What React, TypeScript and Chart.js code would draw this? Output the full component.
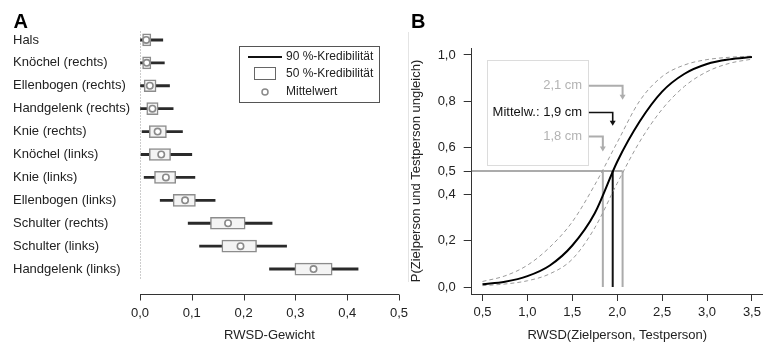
import React, { useEffect, useRef } from 'react';
import { Chart, registerables } from 'chart.js';

Chart.register(...registerables);

const FONT = "'Liberation Sans', Arial, Helvetica, sans-serif";

// ---------- Panel A data ----------
const CATEGORIES = [
  'Hals',
  'Knöchel (rechts)',
  'Ellenbogen (rechts)',
  'Handgelenk (rechts)',
  'Knie (rechts)',
  'Knöchel (links)',
  'Knie (links)',
  'Ellenbogen (links)',
  'Schulter (rechts)',
  'Schulter (links)',
  'Handgelenk (links)',
];
const CI90_LOW = [0.0, 0.001, 0.0, 0.001, 0.004, 0.002, 0.008, 0.039, 0.093, 0.115, 0.25];
const CI90_HIGH = [0.044, 0.047, 0.057, 0.064, 0.082, 0.1, 0.106, 0.145, 0.255, 0.283, 0.421];
const CI50_LOW = [0.005, 0.005, 0.008, 0.013, 0.018, 0.018, 0.028, 0.064, 0.136, 0.158, 0.299];
const CI50_HIGH = [0.021, 0.021, 0.031, 0.035, 0.051, 0.059, 0.069, 0.107, 0.203, 0.225, 0.371];
const MEAN = [0.012, 0.013, 0.019, 0.024, 0.034, 0.041, 0.05, 0.087, 0.17, 0.194, 0.335];
const TICKS_A = [0, 0.1, 0.2, 0.3, 0.4, 0.5];
const LEGEND_A = ['90 %-Kredibilität', '50 %-Kredibilität', 'Mittelwert'];

// ---------- Panel B data ----------
const X_B = [0.5, 0.75, 1.0, 1.25, 1.5, 1.75, 2.0, 2.25, 2.5, 2.75, 3.0, 3.25, 3.5];
const P_MEAN = [0.012, 0.023, 0.047, 0.093, 0.179, 0.318, 0.54, 0.713, 0.842, 0.919, 0.961, 0.981, 0.991];
const P_UPPER = [0.024, 0.048, 0.094, 0.172, 0.281, 0.44, 0.623, 0.802, 0.907, 0.957, 0.98, 0.99, 0.995];
const P_LOWER = [0.006, 0.013, 0.027, 0.057, 0.12, 0.255, 0.447, 0.626, 0.766, 0.865, 0.928, 0.964, 0.982];
const TICKS_B_X = [0.5, 1.0, 1.5, 2.0, 2.5, 3.0, 3.5];
const TICKS_B_Y = [0, 0.2, 0.4, 0.5, 0.6, 0.8, 1.0];
const X_MIN_B = 0.38;
const X_MAX_B = 3.62;
const THRESHOLD = 0.5;
const CROSS_LOW = 1.84;
const CROSS_MEAN = 1.95;
const CROSS_HIGH = 2.06;
const ANNOT_TEXT = ['2,1 cm', 'Mittelw.: 1,9 cm', '1,8 cm'];
const ANNOT_Y = [0.867, 0.752, 0.649];
const ANNOT_TIP_Y = [0.807, 0.695, 0.584];
const ANNOT_TARGET_X = [CROSS_HIGH, CROSS_MEAN, CROSS_LOW];
const ANNOT_BOX = { x0: 0.549, x1: 1.673, y0: 0.524, y1: 0.978 };
const ANNOT_TEXT_X = 1.61;
const ANNOT_ARROW_X0 = 1.685;

const fmt = (v: number) => Number(v).toFixed(1).replace('.', ',');
const font13 = { family: FONT, size: 13 };

const panelAPlugin = {
  id: 'panelA',
  beforeDatasetsDraw(chart: any) {
    const { ctx, chartArea } = chart;
    const xs = chart.scales.x;
    const x0 = Math.round(xs.getPixelForValue(0)) + 0.5;
    ctx.save();
    ctx.strokeStyle = '#9a9a9a';
    ctx.lineWidth = 1;
    ctx.setLineDash([1, 2]);
    ctx.beginPath();
    ctx.moveTo(x0, chartArea.top + 3);
    ctx.lineTo(x0, chartArea.bottom);
    ctx.stroke();
    ctx.restore();
  },
  afterDraw(chart: any) {
    const { ctx, chartArea } = chart;
    const xs = chart.scales.x;
    ctx.save();
    // axis line below the plot
    const ay = Math.round(chartArea.bottom + 13.5) + 0.5;
    ctx.strokeStyle = '#333';
    ctx.lineWidth = 1;
    ctx.beginPath();
    ctx.moveTo(xs.getPixelForValue(TICKS_A[0]), ay);
    ctx.lineTo(xs.getPixelForValue(TICKS_A[TICKS_A.length - 1]), ay);
    TICKS_A.forEach((t) => {
      const px = Math.round(xs.getPixelForValue(t)) + 0.5;
      ctx.moveTo(px, ay);
      ctx.lineTo(px, ay + 6);
    });
    ctx.stroke();

    // legend
    ctx.strokeStyle = '#555';
    ctx.lineWidth = 1;
    ctx.strokeRect(239.5, 46.5, 140, 56);
    ctx.strokeStyle = '#111';
    ctx.lineWidth = 2;
    ctx.beginPath();
    ctx.moveTo(248, 57);
    ctx.lineTo(282, 57);
    ctx.stroke();
    ctx.strokeStyle = '#666';
    ctx.lineWidth = 1;
    ctx.strokeRect(254.5, 67.5, 21, 12);
    ctx.strokeStyle = '#8a8a8a';
    ctx.lineWidth = 1.5;
    ctx.beginPath();
    ctx.arc(265, 92, 3, 0, Math.PI * 2);
    ctx.stroke();
    ctx.fillStyle = '#222';
    ctx.font = `12px ${FONT}`;
    ctx.textAlign = 'left';
    ctx.textBaseline = 'middle';
    ctx.fillText(LEGEND_A[0], 286, 57);
    ctx.fillText(LEGEND_A[1], 286, 74);
    ctx.fillText(LEGEND_A[2], 286, 92);
    ctx.restore();
  },
};

const panelBPlugin = {
  id: 'panelB',
  afterDraw(chart: any) {
    const { ctx } = chart;
    const xs = chart.scales.x;
    const ys = chart.scales.y;
    const X = (v: number) => xs.getPixelForValue(v);
    const Y = (v: number) => ys.getPixelForValue(v);
    ctx.save();
    const bx0 = Math.round(X(ANNOT_BOX.x0)) + 0.5;
    const bx1 = Math.round(X(ANNOT_BOX.x1)) + 0.5;
    const by0 = Math.round(Y(ANNOT_BOX.y1)) + 0.5;
    const by1 = Math.round(Y(ANNOT_BOX.y0)) + 0.5;
    ctx.fillStyle = '#fff';
    ctx.fillRect(bx0, by0, bx1 - bx0, by1 - by0);
    ctx.strokeStyle = '#dcdcdc';
    ctx.lineWidth = 1;
    ctx.strokeRect(bx0, by0, bx1 - bx0, by1 - by0);

    ctx.font = `13px ${FONT}`;
    ctx.textAlign = 'right';
    ctx.textBaseline = 'middle';
    ANNOT_TEXT.forEach((t, i) => {
      const isMean = i === 1;
      const col = isMean ? '#111' : '#b3b3b3';
      const ty = Y(ANNOT_Y[i]);
      ctx.fillStyle = col;
      ctx.fillText(t, X(ANNOT_TEXT_X), ty);
      const lx = X(ANNOT_TARGET_X[i]);
      const tipY = Y(ANNOT_TIP_Y[i]);
      ctx.strokeStyle = isMean ? '#111' : '#adadad';
      ctx.lineWidth = isMean ? 1.6 : 2;
      ctx.beginPath();
      ctx.moveTo(X(ANNOT_ARROW_X0), ty);
      ctx.lineTo(lx, ty);
      ctx.lineTo(lx, tipY - 4);
      ctx.stroke();
      ctx.fillStyle = isMean ? '#111' : '#adadad';
      ctx.beginPath();
      ctx.moveTo(lx - 3, tipY - 5);
      ctx.lineTo(lx + 3, tipY - 5);
      ctx.lineTo(lx, tipY);
      ctx.closePath();
      ctx.fill();
    });
    ctx.restore();
  },
};

function PanelA() {
  const ref = useRef<HTMLCanvasElement>(null);
  useEffect(() => {
    if (!ref.current) return;
    const chart = new Chart(ref.current, {
      type: 'bar',
      data: {
        labels: CATEGORIES,
        datasets: [
          {
            type: 'scatter',
            label: 'Mittelwert',
            data: MEAN.map((m, i) => ({ x: m, y: CATEGORIES[i] })),
            pointRadius: 3.2,
            pointBorderWidth: 1.6,
            pointBorderColor: '#8a8a8a',
            pointBackgroundColor: '#ffffff',
            showLine: false,
          } as any,
          {
            type: 'bar',
            label: '50 %-Kredibilität',
            indexAxis: 'y',
            data: CI50_LOW.map((lo, i) => [lo, CI50_HIGH[i]]),
            barThickness: 12,
            backgroundColor: '#f4f4f4',
            borderColor: '#8c8c8c',
            borderWidth: 1.5,
            borderSkipped: false,
            grouped: false,
          } as any,
          {
            type: 'bar',
            label: '90 %-Kredibilität',
            indexAxis: 'y',
            data: CI90_LOW.map((lo, i) => [lo, CI90_HIGH[i]]),
            barThickness: 2.2,
            backgroundColor: '#2a2a2a',
            borderWidth: 0,
            grouped: false,
          } as any,
        ],
      },
      options: {
        responsive: false,
        animation: false,
        layout: { padding: { left: 13, right: 11, top: 28.5, bottom: 0 } },
        plugins: { legend: { display: false }, tooltip: { enabled: false } },
        scales: {
          x: {
            type: 'linear',
            min: 0,
            max: 0.5,
            offset: false,
            afterBuildTicks: (s: any) => {
              s.ticks = TICKS_A.map((v) => ({ value: v }));
            },
            afterFit: (s: any) => {
              s.height = 63.5;
            },
            grid: {
              display: true,
              drawOnChartArea: false,
              drawTicks: true,
              tickLength: 25,
              color: 'rgba(0,0,0,0)',
              offset: false,
            },
            border: { display: false },
            ticks: {
              padding: 0,
              font: font13,
              color: '#222',
              maxRotation: 0,
              autoSkip: false,
              callback: (v: any) => fmt(v),
            },
            title: {
              display: true,
              text: 'RWSD-Gewicht',
              font: font13,
              color: '#222',
              padding: { top: 0, bottom: 1 },
            },
          },
          y: {
            type: 'category',
            offset: true,
            afterFit: (s: any) => {
              s.width = 127;
            },
            grid: { display: false, drawTicks: false },
            border: { display: false },
            ticks: { crossAlign: 'far', font: font13, color: '#222', padding: 0, autoSkip: false },
          },
        },
      } as any,
      plugins: [panelAPlugin],
    });
    return () => chart.destroy();
  }, []);
  return (
    <canvas
      ref={ref}
      width={410}
      height={344}
      style={{ position: 'absolute', left: 0, top: 0, width: 410, height: 344 }}
    />
  );
}

function PanelB() {
  const ref = useRef<HTMLCanvasElement>(null);
  useEffect(() => {
    if (!ref.current) return;
    const pts = (ys: number[]) => X_B.map((x, i) => ({ x, y: ys[i] }));
    const chart = new Chart(ref.current, {
      type: 'scatter',
      data: {
        datasets: [
          {
            data: pts(P_MEAN),
            showLine: true,
            borderColor: '#000',
            borderWidth: 2,
            pointRadius: 0,
            cubicInterpolationMode: 'monotone',
          },
          {
            data: pts(P_UPPER),
            showLine: true,
            borderColor: '#9a9a9a',
            borderWidth: 1,
            borderDash: [4, 3],
            pointRadius: 0,
            cubicInterpolationMode: 'monotone',
          },
          {
            data: pts(P_LOWER),
            showLine: true,
            borderColor: '#9a9a9a',
            borderWidth: 1,
            borderDash: [4, 3],
            pointRadius: 0,
            cubicInterpolationMode: 'monotone',
          },
          {
            data: [
              { x: CROSS_MEAN, y: 0 },
              { x: CROSS_MEAN, y: THRESHOLD },
            ],
            showLine: true,
            borderColor: '#111',
            borderWidth: 2,
            pointRadius: 0,
          },
          {
            data: [
              { x: CROSS_LOW, y: 0 },
              { x: CROSS_LOW, y: THRESHOLD },
            ],
            showLine: true,
            borderColor: '#ababab',
            borderWidth: 2,
            pointRadius: 0,
          },
          {
            data: [
              { x: CROSS_HIGH, y: 0 },
              { x: CROSS_HIGH, y: THRESHOLD },
            ],
            showLine: true,
            borderColor: '#ababab',
            borderWidth: 2,
            pointRadius: 0,
          },
          {
            data: [
              { x: X_MIN_B, y: THRESHOLD },
              { x: CROSS_HIGH, y: THRESHOLD },
            ],
            showLine: true,
            borderColor: '#ababab',
            borderWidth: 2,
            pointRadius: 0,
          },
        ] as any,
      },
      options: {
        responsive: false,
        animation: false,
        layout: { padding: { left: 5, right: 1, top: 48, bottom: 0 } },
        plugins: { legend: { display: false }, tooltip: { enabled: false } },
        scales: {
          x: {
            type: 'linear',
            min: X_MIN_B,
            max: X_MAX_B,
            afterBuildTicks: (s: any) => {
              s.ticks = TICKS_B_X.map((v) => ({ value: v }));
            },
            afterFit: (s: any) => {
              s.height = 50;
            },
            grid: { drawOnChartArea: false, drawTicks: true, tickLength: 7, color: '#333', lineWidth: 1 },
            border: { display: true, color: '#333', width: 1 },
            ticks: {
              padding: 4,
              font: font13,
              color: '#222',
              maxRotation: 0,
              autoSkip: false,
              callback: (v: any) => fmt(v),
            },
            title: {
              display: true,
              text: 'RWSD(Zielperson, Testperson)',
              font: font13,
              color: '#222',
              padding: { top: 0, bottom: 1 },
            },
          },
          y: {
            type: 'linear',
            min: -0.03,
            max: 1.03,
            afterBuildTicks: (s: any) => {
              s.ticks = TICKS_B_Y.map((v) => ({ value: v }));
            },
            afterFit: (s: any) => {
              s.width = 66.7;
            },
            grid: { drawOnChartArea: false, drawTicks: true, tickLength: 8, color: '#333', lineWidth: 1 },
            border: { display: true, color: '#333', width: 1 },
            ticks: {
              padding: 8,
              font: font13,
              color: '#222',
              autoSkip: false,
              callback: (v: any) => fmt(v),
            },
            title: {
              display: true,
              text: 'P(Zielperson und Testperson ungleich)',
              font: font13,
              color: '#222',
              padding: { top: 4, bottom: 0 },
            },
          },
        },
      } as any,
      plugins: [panelBPlugin],
    });
    return () => chart.destroy();
  }, []);
  return (
    <canvas
      ref={ref}
      width={365}
      height={344}
      style={{ position: 'absolute', left: 400, top: 0, width: 365, height: 344 }}
    />
  );
}

export default function App() {
  const titleStyle: React.CSSProperties = {
    position: 'absolute',
    top: 10.8,
    fontFamily: FONT,
    fontWeight: 'bold',
    fontSize: 20,
    lineHeight: '20px',
    color: '#000',
  };
  return (
    <div
      style={{
        position: 'fixed',
        left: 0,
        top: 0,
        width: 765,
        height: 344,
        background: '#fff',
        overflow: 'hidden',
      }}
    >
      <div
        style={{ position: 'absolute', left: 408, top: 32, width: 1, height: 250, background: '#e4e4e4' }}
      />
      <PanelA />
      <PanelB />
      <div style={{ ...titleStyle, left: 13.5 }}>A</div>
      <div style={{ ...titleStyle, left: 411 }}>B</div>
    </div>
  );
}
